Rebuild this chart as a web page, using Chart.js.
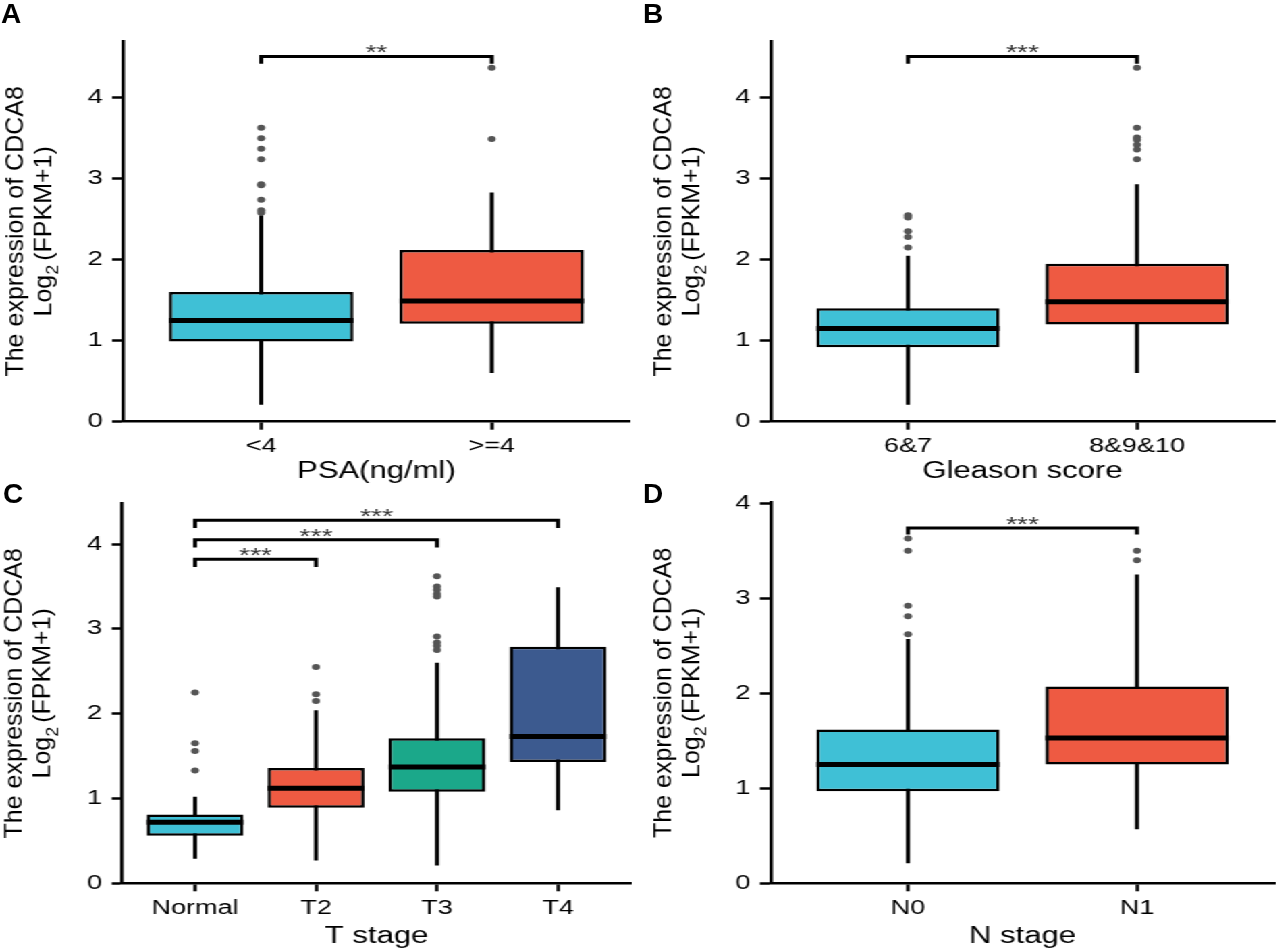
<!DOCTYPE html>
<html>
<head>
<meta charset="utf-8">
<script src="https://cdn.jsdelivr.net/npm/chart.js@4.4.1/dist/chart.umd.min.js"></script>
<style>
  body { margin: 0; background: #fff; width: 1279px; height: 950px; overflow: hidden; position: relative; }
  /* the source figure is stretched sideways, so the charts are drawn narrow and widened */
  #stretch { position: absolute; left: 0; top: 0; width: 948px; height: 950px; transform: scaleX(1.35); transform-origin: 0 0; }
  .panel { position: absolute; }
  .tag { position: absolute; font: bold 28px/28px "Liberation Sans", Arial, sans-serif; color: #000; }
</style>
</head>
<body>
<div id="stretch">
  <div class="panel" style="left:0;top:0;width:474px;height:490px"><canvas id="chartA"></canvas></div>
  <div class="panel" style="left:474px;top:0;width:474px;height:490px"><canvas id="chartB"></canvas></div>
  <div class="panel" style="left:0;top:473px;width:474px;height:477px"><canvas id="chartC"></canvas></div>
  <div class="panel" style="left:474px;top:473px;width:474px;height:477px"><canvas id="chartD"></canvas></div>
</div>
<div class="tag" style="left:1px;top:0">A</div>
<div class="tag" style="left:643px;top:0">B</div>
<div class="tag" style="left:3px;top:480px">C</div>
<div class="tag" style="left:643px;top:480px">D</div>

<script>
const K = 1.35; // horizontal stretch

const yTitle = ['The expression of CDCA8', 'Log', '2', '(FPKM+1)'];
const yTicks = [0, 1, 2, 3, 4];

// A - PSA
const psaGroups = ['<4', '>=4'];
const psaLow = [0.21, 0.60];
const psaQ1 = [0.99, 1.21];
const psaMed = [1.25, 1.49];
const psaQ3 = [1.60, 2.12];
const psaHigh = [2.55, 2.83];
const psaOut = [[3.63, 3.50, 3.37, 3.24, 2.93, 2.92, 2.74, 2.61, 2.58], [3.49, 4.37]];
const psaPairs = [[1, 2]];
const psaBracketY = [4.51];
const psaStars = ['**'];

// B - Gleason
const gleGroups = ['6&7', '8&9&10'];
const gleLow = [0.21, 0.60];
const gleQ1 = [0.92, 1.20];
const gleMed = [1.15, 1.48];
const gleQ3 = [1.40, 1.95];
const gleHigh = [2.05, 2.93];
const gleOut = [[2.55, 2.52, 2.35, 2.28, 2.15], [4.37, 3.63, 3.51, 3.48, 3.42, 3.36, 3.24]];
const glePairs = [[1, 2]];
const gleBracketY = [4.51];
const gleStars = ['***'];

// C - T stage
const tGroups = ['Normal', 'T2', 'T3', 'T4'];
const tLow = [0.29, 0.27, 0.21, 0.86];
const tQ1 = [0.56, 0.89, 1.08, 1.43];
const tMed = [0.72, 1.12, 1.37, 1.73];
const tQ3 = [0.81, 1.36, 1.71, 2.79];
const tHigh = [1.02, 2.04, 2.60, 3.49];
const tOut = [[2.25, 1.65, 1.56, 1.33], [2.55, 2.23, 2.15], [3.62, 3.50, 3.46, 3.41, 3.38, 2.91, 2.84, 2.80, 2.75], []];
const tPairs = [[1, 2], [1, 3], [1, 4]];
const tBracketY = [3.82, 4.05, 4.28];
const tStars = ['***', '***', '***'];

// D - N stage
const nGroups = ['N0', 'N1'];
const nLow = [0.21, 0.57];
const nQ1 = [0.97, 1.25];
const nMed = [1.25, 1.53];
const nQ3 = [1.62, 2.07];
const nHigh = [2.57, 3.25];
const nOut = [[3.63, 3.50, 2.92, 2.81, 2.62], [3.50, 3.40]];
const nPairs = [[1, 2]];
const nBracketY = [3.74];
const nStars = ['***'];

const twoColors = ['#3FC0D6', '#EE5A42'];
const fourColors = ['#3FC0D6', '#EE5A42', '#1BA88A', '#3C5A8F'];

Chart.defaults.font.family = '"Liberation Sans", Arial, sans-serif';
Chart.defaults.color = '#000';

const yTitlePlugin = {
  id: 'yTitle',
  afterDraw(chart) {
    const { ctx, chartArea } = chart;
    const cy = (chartArea.top + chartArea.bottom) / 2;
    ctx.save();
    ctx.fillStyle = '#000';
    ctx.textBaseline = 'alphabetic';
    // first line
    ctx.save();
    ctx.translate(chartArea.left - 74.3, cy);
    ctx.scale(1 / K, 1);
    ctx.rotate(-Math.PI / 2);
    ctx.font = '25px "Liberation Sans", Arial, sans-serif';
    ctx.textAlign = 'center';
    ctx.fillText(yTitle[0], 0, 0);
    ctx.restore();
    // second line with subscript
    ctx.save();
    ctx.translate(chartArea.left - 53.3, cy);
    ctx.scale(1 / K, 1);
    ctx.rotate(-Math.PI / 2);
    ctx.textAlign = 'left';
    const big = '25px "Liberation Sans", Arial, sans-serif';
    const small = '18px "Liberation Sans", Arial, sans-serif';
    ctx.font = big;
    const w1 = ctx.measureText(yTitle[1]).width;
    const w3 = ctx.measureText(yTitle[3]).width;
    ctx.font = small;
    const w2 = ctx.measureText(yTitle[2]).width;
    const gap = 4;
    let x = -(w1 + w2 + gap + w3) / 2;
    ctx.font = big;
    ctx.fillText(yTitle[1], x, 0);
    x += w1;
    ctx.font = small;
    ctx.fillText(yTitle[2], x, 7);
    x += w2 + gap;
    ctx.font = big;
    ctx.fillText(yTitle[3], x, 0);
    ctx.restore();
    ctx.restore();
  }
};

const starsPlugin = {
  id: 'stars',
  afterDatasetsDraw(chart, args, opts) {
    const { ctx, scales } = chart;
    ctx.save();
    ctx.fillStyle = '#333';
    ctx.font = '21px "Liberation Sans", Arial, sans-serif';
    ctx.textAlign = 'center';
    ctx.textBaseline = 'alphabetic';
    opts.pairs.forEach(([a, b], i) => {
      const px = scales.x.getPixelForValue((a + b) / 2);
      const py = scales.y.getPixelForValue(opts.bracketY[i]) + 3;
      ctx.fillText(opts.stars[i], px, py);
    });
    ctx.restore();
  }
};

function boxChart(id, p) {
  const xs = p.groups.map((g, i) => i + 1);
  const boxes = xs.map((x, i) => ({ x: x, y: [p.q1[i], p.q3[i]] }));
  const whiskers = [];
  const medians = [];
  const points = [];
  const brackets = [];
  xs.forEach((x, i) => {
    whiskers.push({ x: x, y: p.low[i] }, { x: x, y: p.high[i] }, { x: x, y: null });
    medians.push({ x: x - 0.4, y: p.med[i] }, { x: x + 0.4, y: p.med[i] }, { x: x, y: null });
    p.out[i].forEach(v => points.push({ x: x, y: v }));
  });
  p.pairs.forEach(([a, b], i) => {
    const y = p.bracketY[i];
    brackets.push({ x: a, y: y - p.drop }, { x: a, y: y }, { x: b, y: y }, { x: b, y: y - p.drop }, { x: b, y: null });
  });

  new Chart(document.getElementById(id), {
    type: 'bar',
    data: {
      datasets: [
        { type: 'line', data: whiskers, borderColor: '#000', borderWidth: 3, pointRadius: 0, order: 3 },
        { type: 'bar', data: boxes, backgroundColor: p.colors, borderColor: '#000', borderWidth: 2.5,
          borderSkipped: false, categoryPercentage: 1, barPercentage: 0.8, order: 2 },
        { type: 'line', data: medians, borderColor: '#000', borderWidth: 5, pointRadius: 0, order: 1 },
        { type: 'scatter', data: points, backgroundColor: '#555', borderWidth: 0, pointRadius: 3, order: 0 },
        { type: 'line', data: brackets, borderColor: '#000', borderWidth: 3, pointRadius: 0, order: 0 }
      ]
    },
    options: {
      responsive: true,
      maintainAspectRatio: false,
      animation: false,
      layout: { padding: { left: 0, right: p.padRight, top: p.padTop, bottom: 0 } },
      plugins: {
        legend: { display: false },
        tooltip: { enabled: false },
        stars: { pairs: p.pairs, bracketY: p.bracketY, stars: p.stars }
      },
      scales: {
        x: {
          type: 'linear',
          min: 0.4,
          max: xs.length + 0.6,
          offset: false,
          afterBuildTicks: s => { s.ticks = xs.map(v => ({ value: v })); },
          afterFit: s => { s.height = p.xAxisH; },
          ticks: { callback: v => p.groups[v - 1], color: '#000', font: { size: 20 }, padding: 5, autoSkip: false, maxRotation: 0 },
          grid: { offset: false, drawOnChartArea: false, tickLength: 8, tickColor: '#000', tickWidth: 2.5 },
          border: { color: '#000', width: 2.5 },
          title: { display: true, text: p.xTitle, color: '#000', font: { size: 23 }, padding: { top: 0, bottom: p.titlePad } }
        },
        y: {
          min: 0,
          max: p.yMax,
          afterBuildTicks: s => { s.ticks = yTicks.map(v => ({ value: v })); },
          afterFit: s => { s.width = p.yAxisW; },
          ticks: { color: '#000', font: { size: 20 }, padding: 7 },
          grid: { drawOnChartArea: false, tickLength: 8, tickColor: '#000', tickWidth: 2.5 },
          border: { color: '#000', width: 2.5 }
        }
      }
    },
    plugins: [yTitlePlugin, starsPlugin]
  });
}

boxChart('chartA', {
  groups: psaGroups, low: psaLow, q1: psaQ1, med: psaMed, q3: psaQ3, high: psaHigh, out: psaOut,
  pairs: psaPairs, bracketY: psaBracketY, stars: psaStars, drop: 0.09, colors: twoColors,
  xTitle: 'PSA(ng/ml)', yMax: 4.7, padTop: 41, padRight: 7.3, yAxisW: 91, xAxisH: 68.3, titlePad: 4.5
});
boxChart('chartB', {
  groups: gleGroups, low: gleLow, q1: gleQ1, med: gleMed, q3: gleQ3, high: gleHigh, out: gleOut,
  pairs: glePairs, bracketY: gleBracketY, stars: gleStars, drop: 0.09, colors: twoColors,
  xTitle: 'Gleason score', yMax: 4.7, padTop: 41, padRight: 0, yAxisW: 96.8, xAxisH: 68.3, titlePad: 4.5
});
boxChart('chartC', {
  groups: tGroups, low: tLow, q1: tQ1, med: tMed, q3: tQ3, high: tHigh, out: tOut,
  pairs: tPairs, bracketY: tBracketY, stars: tStars, drop: 0.09, colors: fourColors,
  xTitle: 'T stage', yMax: 4.48, padTop: 30.3, padRight: 6.9, yAxisW: 90.7, xAxisH: 66.7, titlePad: 0
});
boxChart('chartD', {
  groups: nGroups, low: nLow, q1: nQ1, med: nMed, q3: nQ3, high: nHigh, out: nOut,
  pairs: nPairs, bracketY: nBracketY, stars: nStars, drop: 0.07, colors: twoColors,
  xTitle: 'N stage', yMax: 4.01, padTop: 29.3, padRight: 0, yAxisW: 96.8, xAxisH: 66.7, titlePad: 0
});
</script>
</body>
</html>
